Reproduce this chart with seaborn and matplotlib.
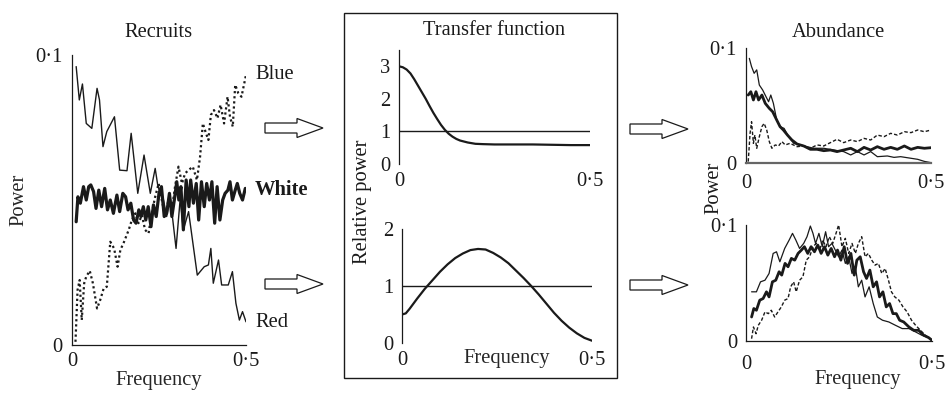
import matplotlib.pyplot as plt
import pandas as pd
import seaborn as sns
from matplotlib.patches import FancyArrow, Rectangle

# ---- data: (frequency, power) pairs ----
# Recruits
recruit_red = [(0.012, 0.096), (0.021, 0.0845), (0.030, 0.090), (0.041, 0.0764), (0.057, 0.0747),
               (0.072, 0.0885), (0.079, 0.0845), (0.089, 0.0684), (0.100, 0.0736), (0.122, 0.0787),
               (0.137, 0.0603), (0.158, 0.0601), (0.170, 0.073), (0.189, 0.0523), (0.207, 0.0655),
               (0.225, 0.0523), (0.239, 0.0609), (0.247, 0.0546), (0.263, 0.050), (0.272, 0.0443),
               (0.282, 0.0511), (0.299, 0.0333), (0.311, 0.0506), (0.320, 0.0397), (0.335, 0.046),
               (0.360, 0.0241), (0.380, 0.027), (0.392, 0.0276), (0.399, 0.0333), (0.406, 0.0213),
               (0.421, 0.0293), (0.430, 0.0207), (0.449, 0.0207), (0.461, 0.0253), (0.471, 0.0144),
               (0.481, 0.0086), (0.490, 0.0115), (0.500, 0.008)]
recruit_white = [(0.012, 0.0425), (0.017, 0.0511), (0.024, 0.0489), (0.033, 0.0546), (0.041, 0.050),
                 (0.048, 0.0546), (0.054, 0.0552), (0.062, 0.0529), (0.069, 0.0471), (0.077, 0.0534),
                 (0.085, 0.0477), (0.094, 0.054), (0.102, 0.0466), (0.110, 0.050), (0.119, 0.0454),
                 (0.129, 0.0517), (0.137, 0.046), (0.146, 0.0523), (0.154, 0.0511), (0.161, 0.0466),
                 (0.169, 0.0489), (0.177, 0.0431), (0.184, 0.042), (0.192, 0.0466), (0.198, 0.0443),
                 (0.205, 0.0477), (0.212, 0.0431), (0.219, 0.0477), (0.227, 0.0408), (0.234, 0.0483),
                 (0.242, 0.0443), (0.250, 0.0523), (0.257, 0.0546), (0.265, 0.0443), (0.272, 0.0454),
                 (0.280, 0.0523), (0.287, 0.0443), (0.294, 0.050), (0.301, 0.0563), (0.307, 0.050),
                 (0.313, 0.0546), (0.320, 0.0397), (0.328, 0.0569), (0.336, 0.0477), (0.341, 0.0569),
                 (0.349, 0.0489), (0.357, 0.0557), (0.364, 0.0431), (0.372, 0.0563), (0.380, 0.0477),
                 (0.387, 0.0557), (0.395, 0.050), (0.402, 0.0563), (0.410, 0.042), (0.417, 0.0546),
                 (0.425, 0.0431), (0.433, 0.050), (0.440, 0.0523), (0.448, 0.0534), (0.454, 0.0563),
                 (0.461, 0.050), (0.469, 0.0534), (0.475, 0.0557), (0.482, 0.0523), (0.490, 0.050),
                 (0.498, 0.054)]
recruit_blue = [(0.010, 0.0011), (0.016, 0.019), (0.022, 0.0224), (0.028, 0.0086), (0.035, 0.0213),
                (0.041, 0.0236), (0.051, 0.0256), (0.060, 0.0213), (0.072, 0.0126), (0.081, 0.0155),
                (0.091, 0.0195), (0.100, 0.0201), (0.110, 0.0356), (0.121, 0.0333), (0.131, 0.027),
                (0.139, 0.0328), (0.148, 0.0351), (0.163, 0.0397), (0.172, 0.0431), (0.182, 0.0454),
                (0.191, 0.042), (0.201, 0.0448), (0.210, 0.0397), (0.220, 0.0385), (0.229, 0.0454),
                (0.239, 0.0511), (0.249, 0.0557), (0.258, 0.050), (0.268, 0.0443), (0.277, 0.050),
                (0.287, 0.0466), (0.296, 0.0546), (0.306, 0.0615), (0.316, 0.0557), (0.325, 0.0592),
                (0.335, 0.0603), (0.347, 0.0615), (0.359, 0.0569), (0.368, 0.0649), (0.376, 0.0764),
                (0.385, 0.073), (0.392, 0.0707), (0.399, 0.0793), (0.408, 0.081), (0.418, 0.0782),
                (0.427, 0.0828), (0.437, 0.0764), (0.447, 0.0856), (0.454, 0.0787), (0.462, 0.0753),
                (0.469, 0.0897), (0.478, 0.0868), (0.487, 0.0856), (0.500, 0.0931)]

# Transfer functions (frequency, relative power)
tf_low = [(0.0, 3.0), (0.01, 2.97), (0.02, 2.9), (0.03, 2.78), (0.04, 2.6), (0.05, 2.4), (0.06, 2.2),
          (0.07, 2.0), (0.08, 1.78), (0.09, 1.57), (0.10, 1.38), (0.11, 1.2), (0.12, 1.05), (0.13, 0.93),
          (0.14, 0.84), (0.15, 0.77), (0.16, 0.72), (0.18, 0.66), (0.20, 0.62), (0.22, 0.61), (0.25, 0.6),
          (0.30, 0.6), (0.35, 0.6), (0.40, 0.59), (0.45, 0.58), (0.50, 0.58)]
tf_band = [(0.0, 0.5), (0.01, 0.52), (0.02, 0.6), (0.04, 0.78), (0.06, 0.95), (0.08, 1.1), (0.10, 1.25),
           (0.12, 1.38), (0.14, 1.49), (0.16, 1.57), (0.18, 1.63), (0.20, 1.65), (0.22, 1.64), (0.24, 1.58),
           (0.26, 1.5), (0.28, 1.4), (0.30, 1.27), (0.32, 1.14), (0.34, 1.0), (0.36, 0.85), (0.38, 0.69),
           (0.40, 0.53), (0.42, 0.39), (0.44, 0.27), (0.46, 0.17), (0.48, 0.09), (0.50, 0.04)]

# Abundance, low-pass filter (top)
abund_hi_red = [(0.009, 0.091), (0.015, 0.0838), (0.022, 0.078), (0.029, 0.081), (0.036, 0.0678),
                (0.045, 0.0635), (0.054, 0.0577), (0.061, 0.0533), (0.067, 0.0591), (0.074, 0.0519),
                (0.083, 0.0374), (0.092, 0.0316), (0.103, 0.0301), (0.115, 0.0229), (0.129, 0.0171),
                (0.147, 0.0157), (0.165, 0.0142), (0.183, 0.0128), (0.210, 0.0128), (0.237, 0.0113),
                (0.264, 0.0099), (0.283, 0.007), (0.301, 0.0099), (0.319, 0.007), (0.337, 0.0099),
                (0.355, 0.0055), (0.382, 0.0061), (0.400, 0.0049), (0.418, 0.0055), (0.446, 0.0041),
                (0.464, 0.0032), (0.482, 0.0014), (0.500, 0.0003)]
abund_hi_white = [(0.006, 0.0591), (0.013, 0.062), (0.020, 0.0548), (0.027, 0.062), (0.034, 0.0548),
                  (0.043, 0.0591), (0.052, 0.0519), (0.063, 0.0475), (0.072, 0.0446), (0.083, 0.0374),
                  (0.092, 0.0316), (0.101, 0.0287), (0.112, 0.0243), (0.124, 0.020), (0.138, 0.0165),
                  (0.156, 0.0148), (0.174, 0.0119), (0.192, 0.0119), (0.210, 0.0107), (0.228, 0.0113),
                  (0.246, 0.0099), (0.264, 0.0113), (0.283, 0.0128), (0.301, 0.0099), (0.319, 0.0136),
                  (0.337, 0.0113), (0.355, 0.0142), (0.373, 0.0119), (0.391, 0.0136), (0.409, 0.0119),
                  (0.428, 0.0148), (0.446, 0.0119), (0.464, 0.0136), (0.482, 0.0128), (0.500, 0.0133)]
abund_hi_blue = [(0.006, 0.0012), (0.011, 0.0258), (0.015, 0.0359), (0.020, 0.0171), (0.024, 0.0243),
                 (0.029, 0.0128), (0.036, 0.0229), (0.043, 0.0316), (0.049, 0.0345), (0.056, 0.0287),
                 (0.063, 0.0186), (0.070, 0.0128), (0.079, 0.0157), (0.088, 0.0148), (0.097, 0.0186),
                 (0.106, 0.0157), (0.119, 0.0171), (0.138, 0.0142), (0.156, 0.0148), (0.174, 0.0128),
                 (0.192, 0.0157), (0.210, 0.0148), (0.228, 0.0177), (0.246, 0.0206), (0.264, 0.0177),
                 (0.283, 0.020), (0.301, 0.0186), (0.319, 0.0214), (0.337, 0.020), (0.355, 0.0243),
                 (0.373, 0.0229), (0.391, 0.0258), (0.409, 0.0243), (0.428, 0.0272), (0.446, 0.0264),
                 (0.464, 0.0287), (0.482, 0.0272), (0.500, 0.0287)]

# Abundance, band-pass filter (bottom)
abund_lo_red = [(0.015, 0.0424), (0.028, 0.0424), (0.039, 0.051), (0.051, 0.0524), (0.062, 0.0582),
                (0.073, 0.0755), (0.082, 0.0769), (0.091, 0.0683), (0.104, 0.0798), (0.116, 0.087),
                (0.125, 0.0928), (0.134, 0.087), (0.144, 0.0798), (0.155, 0.0841), (0.164, 0.0899),
                (0.173, 0.0991), (0.180, 0.0928), (0.187, 0.0841), (0.196, 0.0928), (0.205, 0.0813),
                (0.214, 0.0942), (0.222, 0.0813), (0.231, 0.0841), (0.240, 0.0784), (0.249, 0.0726),
                (0.258, 0.0784), (0.267, 0.0669), (0.276, 0.0726), (0.285, 0.0582), (0.294, 0.064),
                (0.302, 0.0467), (0.311, 0.0524), (0.320, 0.038), (0.331, 0.0467), (0.342, 0.0323),
                (0.353, 0.0207), (0.367, 0.0179), (0.384, 0.0164), (0.402, 0.0135), (0.420, 0.0107),
                (0.438, 0.0107), (0.456, 0.0078), (0.473, 0.0049), (0.491, 0.0029), (0.500, 0.0006)]
abund_lo_white = [(0.015, 0.0207), (0.021, 0.028), (0.028, 0.0265), (0.037, 0.0352), (0.046, 0.0366),
                  (0.055, 0.0424), (0.062, 0.038), (0.071, 0.051), (0.080, 0.0524), (0.089, 0.0597),
                  (0.096, 0.0568), (0.105, 0.0669), (0.113, 0.064), (0.122, 0.0712), (0.131, 0.0697),
                  (0.140, 0.0755), (0.149, 0.0784), (0.157, 0.0813), (0.166, 0.0755), (0.175, 0.0813),
                  (0.184, 0.0769), (0.193, 0.0827), (0.202, 0.0755), (0.211, 0.0813), (0.220, 0.074),
                  (0.229, 0.0798), (0.238, 0.0726), (0.246, 0.0784), (0.255, 0.0697), (0.264, 0.0813),
                  (0.273, 0.0669), (0.282, 0.0755), (0.291, 0.0568), (0.298, 0.0697), (0.307, 0.0726),
                  (0.316, 0.0597), (0.324, 0.0539), (0.333, 0.0611), (0.342, 0.0467), (0.351, 0.051),
                  (0.359, 0.038), (0.368, 0.0424), (0.377, 0.0294), (0.386, 0.0323), (0.395, 0.0236),
                  (0.404, 0.0236), (0.413, 0.0179), (0.424, 0.0164), (0.438, 0.0121), (0.451, 0.0092),
                  (0.464, 0.0092), (0.478, 0.0049), (0.491, 0.0029), (0.500, 0.0006)]
abund_lo_blue = [(0.015, 0.002), (0.020, 0.0121), (0.027, 0.0063), (0.033, 0.0135), (0.042, 0.0179),
                 (0.051, 0.0251), (0.060, 0.0236), (0.068, 0.0265), (0.077, 0.0207), (0.086, 0.0251),
                 (0.095, 0.0294), (0.104, 0.0352), (0.113, 0.0366), (0.120, 0.0467), (0.128, 0.051),
                 (0.135, 0.0424), (0.144, 0.0524), (0.153, 0.0553), (0.162, 0.0697), (0.171, 0.0726),
                 (0.180, 0.0813), (0.189, 0.0841), (0.198, 0.0784), (0.206, 0.087), (0.215, 0.0813),
                 (0.224, 0.0899), (0.233, 0.0841), (0.242, 0.0928), (0.249, 0.100), (0.258, 0.0813),
                 (0.267, 0.0885), (0.276, 0.0755), (0.285, 0.0841), (0.294, 0.0755), (0.302, 0.0841),
                 (0.311, 0.0899), (0.320, 0.0726), (0.329, 0.0755), (0.338, 0.0697), (0.347, 0.0654),
                 (0.356, 0.0669), (0.365, 0.0582), (0.374, 0.0625), (0.383, 0.0524), (0.391, 0.0424),
                 (0.400, 0.038), (0.411, 0.0352), (0.422, 0.0294), (0.433, 0.0251), (0.445, 0.0179),
                 (0.456, 0.0135), (0.469, 0.0092), (0.482, 0.0049), (0.500, 0.0006)]

INK = '#1a1a1a'
W, H = 951, 396
FS = 14.8

sns.set_style('white')
plt.rcParams['font.family'] = ['Liberation Serif', 'DejaVu Serif']
plt.rcParams['font.size'] = FS
plt.rcParams['axes.titlesize'] = FS
plt.rcParams['axes.labelsize'] = FS
plt.rcParams['xtick.labelsize'] = FS
plt.rcParams['ytick.labelsize'] = FS
plt.rcParams['axes.linewidth'] = 0.9
plt.rcParams['axes.edgecolor'] = INK
plt.rcParams['text.color'] = INK
plt.rcParams['xtick.color'] = INK
plt.rcParams['ytick.color'] = INK

fig = plt.figure(figsize=(W / 100, H / 100), dpi=100)


def add_ax(x0, x1, y_top, y_bot):
    # axes placed from pixel edges of the reference
    return fig.add_axes([x0 / W, 1 - y_bot / H, (x1 - x0) / W, (y_bot - y_top) / H])


def draw(ax, pts, **kw):
    d = pd.DataFrame(pts, columns=['freq', 'power'])
    sns.lineplot(data=d, x='freq', y='power', ax=ax, estimator=None, sort=False,
                 color=INK, **kw)
    ax.set_xlabel('')
    ax.set_ylabel('')


def frame(ax, left=True, bottom=True):
    for s in ['top', 'right']:
        ax.spines[s].set_visible(False)
    ax.spines['left'].set_visible(left)
    ax.spines['bottom'].set_visible(bottom)


# ---- Recruits ----
ax = add_ax(72, 246, 55, 345)
draw(ax, recruit_red, linewidth=1.0)
draw(ax, recruit_white, linewidth=2.3)
draw(ax, recruit_blue, linewidth=1.6, linestyle=(0, (1, 1.3)))
frame(ax)
ax.set_xlim(0, 0.5)
ax.set_ylim(0, 0.1)
ax.set_xticks([0, 0.1, 0.2, 0.3, 0.4, 0.5], ['0', '', '', '', '', '0·5'])
ax.set_yticks([0, 0.025, 0.05, 0.075, 0.1], ['0', '', '', '', '0·1'])
ax.tick_params(axis='both', direction='in', length=3, width=0.9)
ax.tick_params(axis='x', pad=5)
ax.tick_params(axis='y', pad=6.5)
ax.set_title('Recruits', pad=13)
ax.set_xlabel('Frequency')
ax.xaxis.set_label_coords(0.5, -0.09)
ax.set_ylabel('Power')
ax.yaxis.set_label_coords(-0.25, 0.5)
ax.text(0.526, 0.0934, 'Blue', va='center', ha='left')
ax.text(0.526, 0.0534, 'White', va='center', ha='left', fontweight='bold')
ax.text(0.526, 0.0079, 'Red', va='center', ha='left')

# ---- Transfer functions ----
ax = add_ax(399, 590, 50, 164)
draw(ax, tf_low, linewidth=1.6)
ax.axhline(1, color=INK, linewidth=1.0)
frame(ax, bottom=False)
ax.set_xlim(0, 0.5)
ax.set_ylim(0, 3.5)
ax.set_yticks([0, 1, 2, 3], ['0', '1', '2', '3'])
ax.set_xticks([0, 0.5], ['0', '0·5'])
ax.tick_params(axis='y', direction='in', length=3, width=0.9, pad=6)
ax.tick_params(axis='x', length=0, pad=6)
ax.set_title('Transfer function', pad=11)

ax = add_ax(402, 592, 229, 343)
draw(ax, tf_band, linewidth=1.6)
ax.axhline(1, color=INK, linewidth=1.0)
frame(ax, bottom=False)
ax.set_xlim(0, 0.5)
ax.set_ylim(0, 2)
ax.set_yticks([0, 0.5, 1, 1.5, 2], ['0', '', '1', '', '2'])
ax.set_xticks([0, 0.5], ['0', '0·5'])
ax.tick_params(axis='y', direction='in', length=3, width=0.9, pad=6)
ax.tick_params(axis='x', length=0, pad=6)
ax.set_xlabel('Frequency')
ax.xaxis.set_label_coords(0.55, -0.05)

fig.text(362 / W, 1 - 202 / H, 'Relative power', rotation=90, ha='center', va='center')

# ---- Abundance ----
ax = add_ax(746, 931, 48, 163)
draw(ax, abund_hi_red, linewidth=0.9)
draw(ax, abund_hi_white, linewidth=2.0)
draw(ax, abund_hi_blue, linewidth=1.0, linestyle=(0, (2.5, 1.5)))
frame(ax)
ax.spines['bottom'].set_color('#666666')
ax.spines['bottom'].set_linewidth(1.6)
ax.set_xlim(0, 0.5)
ax.set_ylim(0, 0.1)
ax.set_yticks([0, 0.1], ['0', '0·1'])
ax.set_xticks([0, 0.5], ['0', '0·5'])
ax.tick_params(axis='y', direction='in', length=3, width=0.9, pad=7)
ax.tick_params(axis='x', length=0, pad=8)
ax.set_title('Abundance', pad=8)

ax = add_ax(746, 932, 225, 341)
draw(ax, abund_lo_red, linewidth=0.9)
draw(ax, abund_lo_white, linewidth=2.0)
draw(ax, abund_lo_blue, linewidth=1.0, linestyle=(0, (2.5, 1.5)))
frame(ax)
ax.set_xlim(0, 0.5)
ax.set_ylim(0, 0.1)
ax.set_yticks([0, 0.1], ['0', '0·1'])
ax.set_xticks([0, 0.5], ['0', '0·5'])
ax.tick_params(axis='y', direction='in', length=3, width=0.9, pad=6)
ax.tick_params(axis='x', length=0, pad=10)
ax.set_xlabel('Frequency')
ax.xaxis.set_label_coords(0.6, -0.25)

fig.text(714 / W, 1 - 188 / H, 'Power', rotation=90, ha='center', va='center')

# ---- overlay: box around transfer functions and block arrows ----
over = fig.add_axes([0, 0, 1, 1])
over.set_xlim(0, W)
over.set_ylim(H, 0)
over.set_axis_off()
over.add_patch(Rectangle((344, 13), 273, 365, fill=False, edgecolor=INK, linewidth=1.0))
for x0, y0 in [(265, 128), (265, 284), (630, 129), (630, 285)]:
    over.add_patch(FancyArrow(x0, y0, 58, 0, width=10, head_width=19, head_length=26,
                              length_includes_head=True, facecolor='white',
                              edgecolor=INK, linewidth=0.9))

fig.savefig('out.png', dpi=100)
